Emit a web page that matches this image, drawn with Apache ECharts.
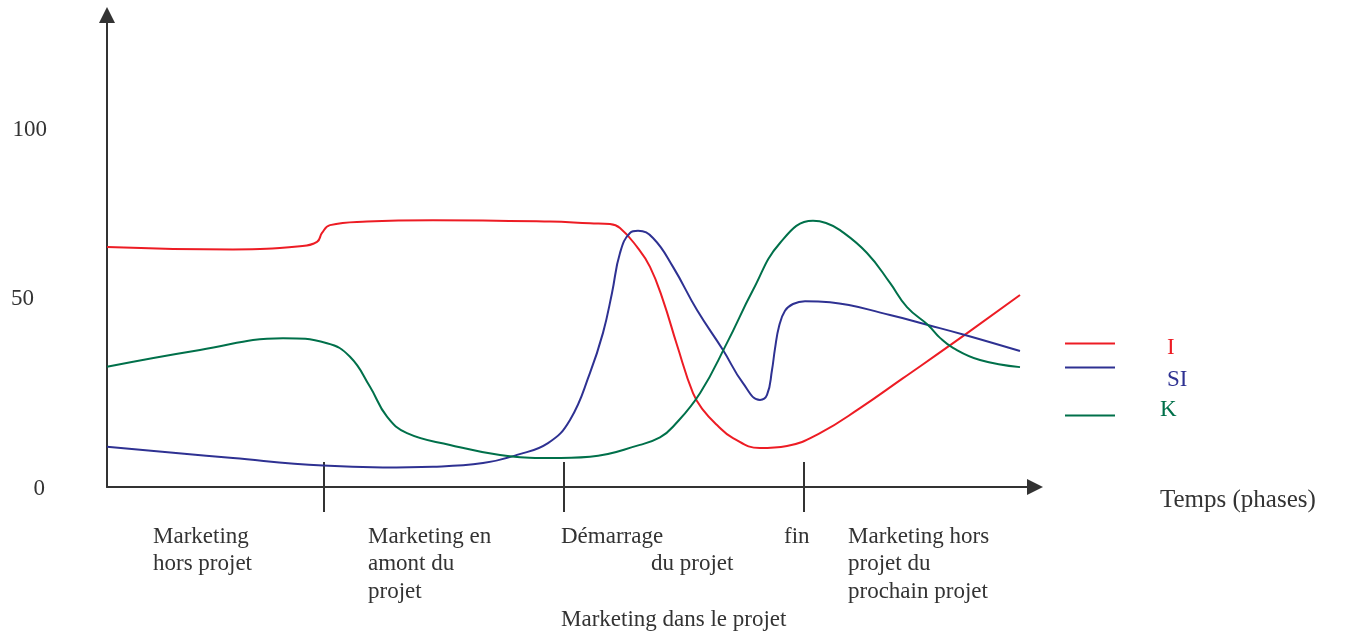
<!DOCTYPE html>
<html>
<head>
<meta charset="utf-8">
<script src="https://cdn.jsdelivr.net/npm/echarts@6/dist/echarts.min.js"></script>
<style>
html, body { margin: 0; padding: 0; background: #fff; }
#main { width: 1347px; height: 634px; }
</style>
</head>
<body>
<div id="main"></div>
<script>
// courbes I / SI / K en fonction du temps (phases)
var seriesNames = ['I', 'SI', 'K'];
var phaseTicks = [217, 457, 697];
var yLabels = [0, 50, 100];

var dataI = [
  [0, 67.3], [126, 66.6], [193, 67.5], [210, 68.7], [215, 71.2], [223, 73.4],
  [260, 74.4], [326, 74.8], [443, 74.4], [483, 73.9], [503, 73.7], [513, 72.6],
  [530, 67.3], [543, 61.7], [556, 52.4], [570, 39.8], [586, 26.3], [596, 21.6],
  [610, 17.4], [626, 13.7], [653, 10.9], [680, 11.5], [713, 15.1], [753, 22.1],
  [795, 30.3], [845, 40.1], [913, 53.8]
];
var dataSI = [
  [0, 11.3], [126, 8.1], [216, 6.0], [276, 5.5], [326, 5.7], [376, 6.7],
  [410, 9.0], [441, 12.3], [463, 18.8], [483, 32.0], [496, 43.2], [505, 54.4],
  [513, 65.6], [523, 71.2], [531, 71.8], [546, 69.8], [566, 61.7], [590, 49.6],
  [616, 38.4], [636, 29.1], [653, 24.4], [660, 25.8], [665, 32.8], [668, 38.8],
  [672, 45.0], [678, 49.4], [686, 51.3], [698, 52.1], [723, 51.8], [783, 48.2],
  [821, 45.4], [858, 42.6], [913, 38.1]
];
var dataK = [
  [0, 33.7], [93, 38.4], [176, 41.7], [220, 40.3], [243, 36.5], [263, 28.1],
  [280, 19.7], [300, 15.1], [343, 11.8], [393, 9.0], [443, 8.1], [483, 8.5],
  [533, 11.8], [553, 13.9], [566, 16.9], [593, 26.3], [620, 40.4], [646, 55.2],
  [673, 68.4], [706, 74.6], [719, 74.0], [733, 72.0], [760, 65.6], [783, 57.2],
  [800, 50.4], [821, 45.4], [833, 41.8], [846, 39.0], [873, 35.6], [913, 33.6]
];

var colors = ['#ed1c24', '#2e3192', '#00704a'];
var serif = '"Liberation Serif", "Times New Roman", serif';
var ink = '#333333';

var chart = echarts.init(document.getElementById('main'));

function legendFor(i, top, pad) {
  var key = 's' + i;
  var rich = {};
  rich[key] = { fontFamily: serif, fontSize: 23, lineHeight: 22, color: colors[i], padding: pad };
  return {
    data: [seriesNames[i]],
    left: 1065,
    top: top,
    padding: 0,
    icon: 'rect',
    itemWidth: 50,
    itemHeight: 2,
    selectedMode: false,
    formatter: function (name) { return '{' + key + '|' + name + '}'; },
    textStyle: { fontFamily: serif, fontSize: 23, color: colors[i], rich: rich }
  };
}

var option = {
  backgroundColor: '#fff',
  animation: false,
  color: colors,
  grid: { left: 107, top: 15, width: 928, height: 472, containLabel: false },
  legend: [
    legendFor(0, 328, [8, 0, 0, 47]),
    legendFor(1, 344, [24, 0, 0, 47]),
    legendFor(2, 398, [0, 0, 12, 40])
  ],
  xAxis: [{
    type: 'value',
    min: 0,
    max: 928,
    name: '{t|Temps (phases)}',
    nameLocation: 'end',
    nameGap: 125,
    nameTextStyle: {
      fontFamily: serif, fontSize: 25, color: ink,
      rich: { t: { fontFamily: serif, fontSize: 25, color: ink, padding: [26, 0, 0, 0] } }
    },
    axisLine: { lineStyle: { color: ink, width: 2 }, symbol: ['none', 'triangle'], symbolSize: [16, 16] },
    axisTick: { show: true, customValues: phaseTicks, length: 25, lineStyle: { color: ink, width: 2 } },
    axisLabel: { show: false },
    splitLine: { show: false }
  }, {
    type: 'value',
    min: 0,
    max: 928,
    position: 'bottom',
    axisLine: { show: false },
    axisTick: { show: true, inside: true, customValues: phaseTicks, length: 25, lineStyle: { color: ink, width: 2 } },
    axisLabel: { show: false },
    splitLine: { show: false }
  }],
  yAxis: {
    type: 'value',
    min: 0,
    max: 132.3,
    axisLine: { show: true, lineStyle: { color: ink, width: 2 }, symbol: ['none', 'triangle'], symbolSize: [16, 16] },
    axisTick: { show: false },
    splitLine: { show: false },
    axisLabel: {
      customValues: yLabels,
      margin: 60,
      fontFamily: serif,
      fontSize: 23,
      color: ink,
      formatter: function (v) { return '{l' + v + '|' + v + '}'; },
      rich: {
        l0: { fontFamily: serif, fontSize: 23, color: ink, padding: [4, 2, 0, 0] },
        l50: { fontFamily: serif, fontSize: 23, color: ink, padding: [0, 13, 20, 0] },
        l100: { fontFamily: serif, fontSize: 23, color: ink }
      }
    }
  },
  series: [
    { name: 'I', type: 'line', data: dataI, smooth: 0.45, symbol: 'none', lineStyle: { width: 2, color: colors[0] } },
    { name: 'SI', type: 'line', data: dataSI, smooth: 0.45, symbol: 'none', lineStyle: { width: 2, color: colors[1] } },
    { name: 'K', type: 'line', data: dataK, smooth: 0.45, symbol: 'none', lineStyle: { width: 2, color: colors[2] } }
  ],
  graphic: [
    { type: 'text', left: 153, top: 523, style: { text: 'Marketing\nhors projet', font: '23px ' + serif, lineHeight: 27.5, fill: ink } },
    { type: 'text', left: 368, top: 523, style: { text: 'Marketing en\namont du\nprojet', font: '23px ' + serif, lineHeight: 27.5, fill: ink } },
    { type: 'text', left: 561, top: 523, style: { text: 'Démarrage', font: '23px ' + serif, lineHeight: 27.5, fill: ink } },
    { type: 'text', left: 651, top: 550.5, style: { text: 'du projet', font: '23px ' + serif, lineHeight: 27.5, fill: ink } },
    { type: 'text', left: 784, top: 523, style: { text: 'fin', font: '23px ' + serif, lineHeight: 27.5, fill: ink } },
    { type: 'text', left: 561, top: 606, style: { text: 'Marketing dans le projet', font: '23px ' + serif, lineHeight: 27.5, fill: ink } },
    { type: 'text', left: 848, top: 523, style: { text: 'Marketing hors\nprojet du\nprochain projet', font: '23px ' + serif, lineHeight: 27.5, fill: ink } }
  ]
};

chart.setOption(option);
window.addEventListener('resize', function () {
  chart.resize();
});
</script>
</body>
</html>
